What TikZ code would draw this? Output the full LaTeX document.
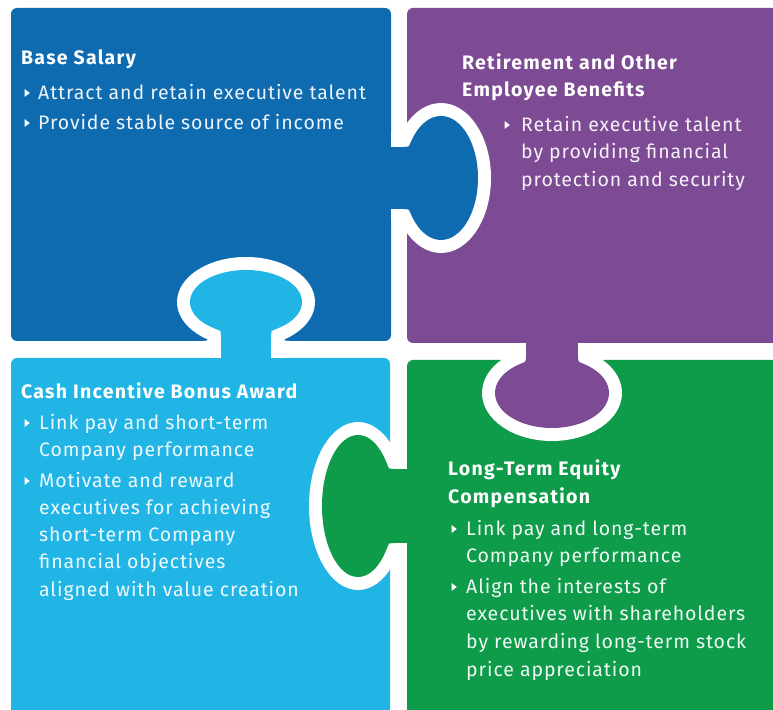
\documentclass[tikz,border=0pt]{standalone}
\usepackage{fontspec}
\setmainfont{Fira Sans}[LetterSpace=4.6]
\newfontfamily\titlefont{Fira Sans}[LetterSpace=6.5]
\definecolor{cblue}{HTML}{0E6BB0}
\definecolor{cpurple}{HTML}{7D4A94}
\definecolor{clblue}{HTML}{20B5E5}
\definecolor{cgreen}{HTML}{0E9C4B}
\tikzset{
  ttl/.style={anchor=base west, inner sep=0pt, text=white, font=\titlefont\fontsize{19.5}{19.5}\selectfont\bfseries},
  txt/.style={anchor=base west, inner sep=0pt, text=white, text opacity=0.93, font=\fontsize{19.5}{19.5}\selectfont},
  gapfill/.style={fill=white},
}
\newcommand\myline[5]{\node[#1] (#2) at (#3,{709-#4}) {#5};}
\newcommand\mybul[2]{\fill[white] ({#1-2.5},{709-#2+4}) -- ({#1+2.8},{709-#2}) -- ({#1-2.5},{709-#2-4}) -- cycle;}
% white fillet rounding a piece corner at (#1,#2), piece towards (#3,#4)
\newcommand\wfil[4]{\fill[white] (#1,#2) -- ({#1+#3},#2) .. controls (#1,#2) .. (#1,{#2+#4}) -- cycle;}
% colour fillet in a concave corner: colour, J, A, P
\newcommand\cfil[7]{\fill[#1] (#2,#3) -- (#4,#5) .. controls (#2,#3) .. (#6,#7) -- cycle;}
\begin{document}
\begin{tikzpicture}[x=1pt,y=1pt]
\useasboundingbox (0,0) rectangle (773,709);
\clip (0,0) rectangle (773,709);
% pieces
\fill[cblue, rounded corners=6] (11,368) rectangle (391,701);
\fill[cpurple, rounded corners=6] (407,366) rectangle (800,701);
\fill[clblue, rounded corners=6] (11,-20) rectangle (390,351);
\fill[cgreen, rounded corners=6] (407,-20) rectangle (800,349);
% white outlines of the tabs
\fill[gapfill] (246,407) ellipse [x radius=69, y radius=45];
\fill[gapfill] (208,351) rectangle (284,407);
\fill[gapfill] (441,531) ellipse [x radius=50, y radius=75];
\fill[gapfill] (391,487) rectangle (441,575);
\fill[gapfill] (552,316) ellipse [x radius=70, y radius=48];
\fill[gapfill] (513,316) rectangle (591,366);
\fill[gapfill] (358,203) ellipse [x radius=49, y radius=84];
\fill[gapfill] (358,153) rectangle (407,253);
\wfil{208}{368}{-6}{6}
\wfil{284}{368}{6}{6}
\wfil{407}{487}{6}{-6}
\wfil{407}{575}{6}{6}
\wfil{513}{349}{-6}{-6}
\wfil{591}{349}{6}{-6}
\wfil{390}{153}{-6}{-6}
\wfil{390}{253}{-6}{6}
% tab 1: light blue into blue
\fill[clblue] (246,407) ellipse [x radius=56, y radius=32];
\fill[clblue] (221,340) rectangle (271,407);
\cfil{clblue}{221}{378.4}{221}{372}{215}{380.3}
\cfil{clblue}{271}{378.4}{271}{372}{277}{380.3}
% tab 2: blue into purple
\fill[cblue] (441,531) ellipse [x radius=37, y radius=62];
\fill[cblue] (385,500) rectangle (441,562);
\cfil{cblue}{409}{500}{403}{500}{411.3}{494}
\cfil{cblue}{409}{562}{403}{562}{411.3}{568}
% tab 3: purple into green
\fill[cpurple] (552,316) ellipse [x radius=57, y radius=35];
\fill[cpurple] (526,316) rectangle (578,372);
\cfil{cpurple}{526}{347.1}{526}{353}{520}{345}
\cfil{cpurple}{578}{347.1}{578}{353}{584}{345}
% tab 4: green into light blue
\fill[cgreen] (358,203) ellipse [x radius=36, y radius=71];
\fill[cgreen] (358,166) rectangle (413,240);
\cfil{cgreen}{388.7}{166}{395}{166}{386.6}{160}
\cfil{cgreen}{388.7}{240}{395}{240}{386.6}{246}
% blue text
\myline{ttl}{bs}{21}{65}{Base Salary}
\mybul{27}{93}
\myline{txt}{bs1}{38}{100}{Attract and retain executive talent}
\mybul{27}{123}
\myline{txt}{bs2}{38}{130}{Provide stable source of income}
% purple text
\myline{ttl}{rt}{462}{70}{Retirement and Other}
\myline{ttl}{rt2}{462}{97}{Employee Benefits}
\mybul{507}{125}
\myline{txt}{rt3}{521}{132}{Retain executive talent}
\myline{txt}{rt4}{521}{159}{by providing financial}
\myline{txt}{rt5}{521}{187}{protection and security}
% light blue text
\myline{ttl}{ci}{21}{399}{Cash Incentive Bonus Award}
\mybul{27}{423}
\myline{txt}{ci1}{39}{430}{Link pay and short-term}
\myline{txt}{ci2}{39}{457}{Company performance}
\mybul{27}{481}
\myline{txt}{ci3}{39}{488}{Motivate and reward}
\myline{txt}{ci4}{39}{515}{executives for achieving}
\myline{txt}{ci5}{39}{542}{short-term Company}
\myline{txt}{ci6}{39}{569}{financial objectives}
\myline{txt}{ci7}{39}{597}{aligned with value creation}
% green text
\myline{ttl}{lt}{448}{476}{Long-Term Equity}
\myline{ttl}{lt2}{448}{504}{Compensation}
\mybul{454}{529}
\myline{txt}{lt3}{466}{536}{Link pay and long-term}
\myline{txt}{lt4}{466}{563}{Company performance}
\mybul{454}{587}
\myline{txt}{lt5}{466}{594}{Align the interests of}
\myline{txt}{lt6}{466}{621}{executives with shareholders}
\myline{txt}{lt7}{466}{649}{by rewarding long-term stock}
\myline{txt}{lt8}{466}{676}{price appreciation}
\end{tikzpicture}
\end{document}
